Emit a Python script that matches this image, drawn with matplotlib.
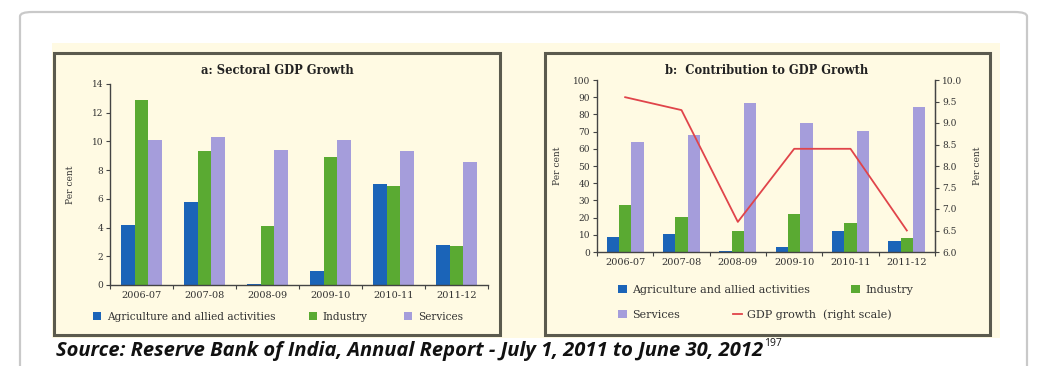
import numpy as np
import matplotlib
matplotlib.use("Agg")
from matplotlib import pyplot as plt
from matplotlib.patches import FancyBboxPatch, Rectangle
from matplotlib.lines import Line2D

years = ['2006-07', '2007-08', '2008-09', '2009-10', '2010-11', '2011-12']

# a: sectoral growth (per cent)
agri_growth = [4.2, 5.8, 0.1, 1.0, 7.0, 2.8]
industry_growth = [12.9, 9.3, 4.1, 8.9, 6.9, 2.7]
services_growth = [10.1, 10.3, 9.4, 10.1, 9.3, 8.6]

# b: contribution to GDP growth (per cent) and GDP growth (right scale)
agri_share = [8.7, 10.3, 0.5, 2.9, 12.2, 6.2]
industry_share = [27.2, 20.4, 12.2, 21.9, 17.1, 8.3]
services_share = [64.1, 68.0, 86.8, 75.1, 70.5, 84.1]
gdp_growth = [9.6, 9.3, 6.7, 8.4, 8.4, 6.5]

source_text = 'Source: Reserve Bank of India, Annual Report - July 1, 2011 to June 30, 2012'
footnote = '197'

BLUE = '#1b64b8'
GREEN = '#5aaa32'
LAVENDER = '#a59ddb'
RED = '#e0444a'
CREAM = '#fffae3'
EDGE = '#5b5a4e'
TXT = '#333333'

W, H = 1037, 366
fig = plt.figure(figsize=(W / 100, H / 100), dpi=100)
fig.patch.set_facecolor('white')
plt.rcParams['font.family'] = ['DejaVu Serif']


def px(x0, y0, x1, y1):
    """pixel box (top-left origin) -> figure fraction [l, b, w, h]"""
    return [x0 / W, 1 - y1 / H, (x1 - x0) / W, (y1 - y0) / H]


def box(x0, y0, x1, y1, **kw):
    l, b, w, h = px(x0, y0, x1, y1)
    r = Rectangle((l, b), w, h, transform=fig.transFigure, zorder=-5, **kw)
    fig.patches.append(r)
    return r


def key(ax, handle, label, xpix, ypix, size):
    """one legend entry anchored at a pixel position"""
    lg = ax.legend([handle], [label], loc='center left',
                   bbox_to_anchor=(xpix / W, 1 - ypix / H), bbox_transform=fig.transFigure,
                   frameon=False, fontsize=size, handlelength=0.8, handleheight=0.8,
                   handletextpad=0.5, borderpad=0, borderaxespad=0, labelcolor=TXT)
    ax.legend_ = None
    ax.add_artist(lg)


# outer card
l, b, w, h = px(20, 12, 1027, 400)
fig.patches.append(FancyBboxPatch((l, b), w, h, boxstyle='round,pad=0,rounding_size=0.012',
                                  transform=fig.transFigure, facecolor='white',
                                  edgecolor='#c9c9c9', linewidth=1.6, zorder=-10))
# cream backdrop and the two framed panels
box(52, 43, 1000, 338, facecolor=CREAM, edgecolor='none')
box(54, 53, 500, 335, facecolor='none', edgecolor=EDGE, linewidth=2.2)
box(545, 53, 990, 335, facecolor='none', edgecolor=EDGE, linewidth=2.2)

x = np.arange(len(years))
bw = 0.22


def style_axis(ax, right=False):
    ax.set_facecolor('none')
    ax.spines['top'].set_visible(False)
    ax.spines['right'].set_visible(right)
    for s in ax.spines.values():
        s.set_color('#444444')
        s.set_linewidth(1.0)
    ax.tick_params(axis='y', direction='out', length=3, width=0.8, labelsize=6.5,
                   colors='#444444', labelcolor=TXT, pad=2)
    ax.set_xticks(x)
    ax.set_xticklabels(years, fontsize=7, color=TXT)
    ax.tick_params(axis='x', which='major', length=0, pad=4)
    ax.set_xticks(np.arange(len(years) + 1) - 0.5, minor=True)
    ax.tick_params(axis='x', which='minor', direction='out', length=3, width=0.8,
                   colors='#444444')
    ax.set_xlim(-0.5, len(years) - 0.5)


# ---- a: Sectoral GDP Growth ----
ax1 = fig.add_axes(px(110, 84, 488, 285))
a1 = ax1.bar(x - bw, agri_growth, bw, color=BLUE)
a2 = ax1.bar(x, industry_growth, bw, color=GREEN)
a3 = ax1.bar(x + bw, services_growth, bw, color=LAVENDER)
ax1.set_ylim(0, 14)
ax1.set_yticks(range(0, 15, 2))
style_axis(ax1)
ax1.set_ylabel('Per cent', fontsize=6.5, color=TXT, labelpad=12)
fig.text(277 / W, 1 - 71 / H, 'a: Sectoral GDP Growth', ha='center', va='center',
         fontsize=8.3, fontweight='bold', color='#222222')
key(ax1, a1, 'Agriculture and allied activities', 93, 317, 7.6)
key(ax1, a2, 'Industry', 309, 317, 7.6)
key(ax1, a3, 'Services', 404, 317, 7.6)

# ---- b: Contribution to GDP Growth ----
ax2 = fig.add_axes(px(597, 80, 935, 252))
b1 = ax2.bar(x - bw, agri_share, bw, color=BLUE)
b2 = ax2.bar(x, industry_share, bw, color=GREEN)
b3 = ax2.bar(x + bw, services_share, bw, color=LAVENDER)
ax2.set_ylim(0, 100)
ax2.set_yticks(range(0, 101, 10))
style_axis(ax2, right=True)
ax2.set_ylabel('Per cent', fontsize=6.5, color=TXT, labelpad=8)

ax3 = ax2.twinx()
ax3.plot(x, gdp_growth, color=RED, linewidth=1.3)
ax3.set_ylim(6.0, 10.0)
ax3.set_yticks(np.arange(6.0, 10.01, 0.5))
ax3.set_yticklabels([f'{v:.1f}' for v in np.arange(6.0, 10.01, 0.5)])
for s in ['top', 'left', 'bottom']:
    ax3.spines[s].set_visible(False)
ax3.spines['right'].set_color('#444444')
ax3.tick_params(axis='y', direction='out', length=3, width=0.8, labelsize=6.5,
                colors='#444444', labelcolor=TXT, pad=2)
ax3.set_ylabel('Per cent', fontsize=6.5, color=TXT, labelpad=8)
fig.text(767 / W, 1 - 71 / H, 'b:  Contribution to GDP Growth', ha='center', va='center',
         fontsize=8.3, fontweight='bold', color='#222222')

gdp_handle = Line2D([], [], color=RED, linewidth=1.3)
key(ax2, b1, 'Agriculture and allied activities', 618, 290, 8.0)
key(ax2, b2, 'Industry', 851, 290, 8.0)
key(ax2, b3, 'Services', 618, 315, 8.0)
key(ax2, gdp_handle, 'GDP growth  (right scale)', 733, 315, 8.0)

# source line with superscript note number
src = fig.text(56 / W, 1 - 351 / H, source_text, ha='left', va='center',
               family=['Open Sans', 'DejaVu Sans'], style='italic', fontweight='bold',
               fontsize=14.5, color='#111111')
fig.canvas.draw()
ext = src.get_window_extent(fig.canvas.get_renderer())
fig.text(ext.x1 / W + 0.001, 1 - 344 / H, footnote, ha='left', va='center',
         family=['Open Sans', 'DejaVu Sans'], fontsize=7.5, color='#111111')

fig.savefig('out.png', dpi=100)
